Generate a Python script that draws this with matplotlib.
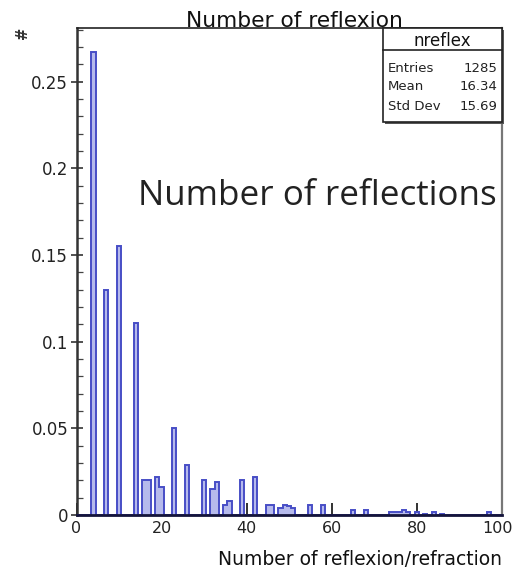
import numpy as np
import matplotlib
matplotlib.use("Agg")
import matplotlib.pyplot as plt
from matplotlib.patches import Rectangle
from matplotlib.lines import Line2D
from matplotlib.ticker import MultipleLocator
from matplotlib.transforms import ScaledTranslation

# ---------------- data ----------------
reflex_bins = [4, 7, 10, 14, 16, 17, 19, 20, 23, 26, 30, 32, 33, 35, 36, 39, 42,
               45, 46, 48, 49, 50, 51, 55, 58, 65, 68, 74, 75, 76, 77, 78, 80,
               82, 84, 86, 97]
fractions = [0.267, 0.130, 0.155, 0.111, 0.020, 0.020, 0.022, 0.016, 0.050, 0.029,
             0.020, 0.015, 0.019, 0.006, 0.008, 0.020, 0.022,
             0.006, 0.006, 0.004, 0.006, 0.005, 0.004, 0.006, 0.006, 0.003, 0.003,
             0.002, 0.0015, 0.002, 0.003, 0.0015, 0.0015, 0.0008, 0.0015, 0.0008, 0.002]
x_ticks = [0, 20, 40, 60, 80, 100]
x_tick_labels = ["0", "20", "40", "60", "80", "100"]
y_ticks = [0, 0.05, 0.1, 0.15, 0.2, 0.25]
y_tick_labels = ["0", "0.05", "0.1", "0.15", "0.2", "0.25"]
title = "Number of reflexion"
x_title = "Number of reflexion/refraction"
y_title = "#"
stats_name = "nreflex"
stats_labels = ["Entries", "Mean", "Std Dev"]
stats_values = ["1285", "16.34", "15.69"]
overlay_text = "Number of reflections"

# ---------------- figure ----------------
W, H = 515, 576
fig = plt.figure(figsize=(W / 100, H / 100), dpi=100)
fig.patch.set_facecolor("white")


def fx(px):
    return px / W


def fy(py):
    return 1 - py / H


ax_l, ax_r, ax_t, ax_b = 76.5, 501.7, 28, 515
ax = fig.add_axes([fx(ax_l), fy(ax_b), (ax_r - ax_l) / W, (ax_b - ax_t) / H])

counts = np.zeros(101)
for b, f in zip(reflex_bins, fractions):
    counts[b] = f
edges = np.arange(102) - 0.5
ax.stairs(counts, edges, fill=True, color="#b6baec", baseline=0, zorder=2)
ax.stairs(counts, edges, fill=False, color="#474ec6", linewidth=1.4, baseline=0, zorder=3)

ax.set_xlim(0, 100)
ax.set_ylim(0, 0.281)

ax.set_xticks(x_ticks)
ax.set_xticklabels(x_tick_labels)
ax.set_yticks(y_ticks)
ax.set_yticklabels(y_tick_labels)
ax.yaxis.set_minor_locator(MultipleLocator(0.01))

ax.tick_params(axis="x", which="major", direction="in", length=9, width=1.3,
               pad=4, labelsize=11.5, colors="#222222", zorder=5)
ax.tick_params(axis="y", which="major", direction="inout", length=8, width=1.1,
               pad=2, labelsize=12, colors="#222222")
ax.tick_params(axis="y", which="minor", direction="in", length=4, width=0.9,
               colors="#444444")

# nudge the last x label ("100") so it stays inside the canvas, as in the reference
last_lab = ax.get_xticklabels()[-1]
last_lab.set_transform(last_lab.get_transform() +
                       ScaledTranslation(-4 / 100, 0, fig.dpi_scale_trans))

ax.spines["left"].set_linewidth(1.8)
ax.spines["left"].set_color("#333333")
ax.spines["bottom"].set_linewidth(2.0)
ax.spines["bottom"].set_color("#14143a")
ax.spines["bottom"].set_zorder(4)
ax.spines["top"].set_linewidth(1.2)
ax.spines["top"].set_color("#222222")
ax.spines["right"].set_linewidth(1.6)
ax.spines["right"].set_color("#777777")

# title
fig.text(fx(294), fy(27), title, ha="center", va="baseline", fontsize=15.7,
         color="#111111")
# axis titles
fig.text(fx(501.7), fy(565), x_title, ha="right", va="baseline", fontsize=13.5,
         color="#111111")
fig.text(fx(23), fy(33), y_title, ha="center", va="center", fontsize=10.5,
         rotation=90, color="#333333", fontweight="bold")

# stats box
bx0, by0, bx1, by1 = 383, 28, 502, 122
shadow = Rectangle((fx(bx0 + 2), fy(by1 + 2)), (bx1 - bx0) / W, (by1 - by0) / H,
                   transform=fig.transFigure, facecolor="#555555", edgecolor="none",
                   zorder=6)
fig.patches.append(shadow)
box = Rectangle((fx(bx0), fy(by1)), (bx1 - bx0) / W, (by1 - by0) / H,
                transform=fig.transFigure, facecolor="white", edgecolor="#222222",
                linewidth=1.2, zorder=7)
fig.patches.append(box)
fig.lines.append(Line2D([fx(bx0), fx(bx1)], [fy(50), fy(50)], transform=fig.transFigure,
                        color="#222222", linewidth=1.2, zorder=8))
fig.text(fx(442.5), fy(41), stats_name, ha="center", va="center", fontsize=12,
         color="#111111", zorder=9)
row_y = [68, 87, 106]
for lab, val, yy in zip(stats_labels, stats_values, row_y):
    fig.text(fx(388), fy(yy), lab, ha="left", va="center", fontsize=9.5,
             color="#222222", zorder=9)
    fig.text(fx(497), fy(yy), val, ha="right", va="center", fontsize=9.5,
             color="#222222", zorder=9)

# overlay annotation
fig.text(fx(138), fy(205), overlay_text, ha="left", va="baseline", fontsize=25.2,
         family="Open Sans", color="#222222", zorder=10)

fig.savefig("out.png", dpi=100, facecolor="white")
